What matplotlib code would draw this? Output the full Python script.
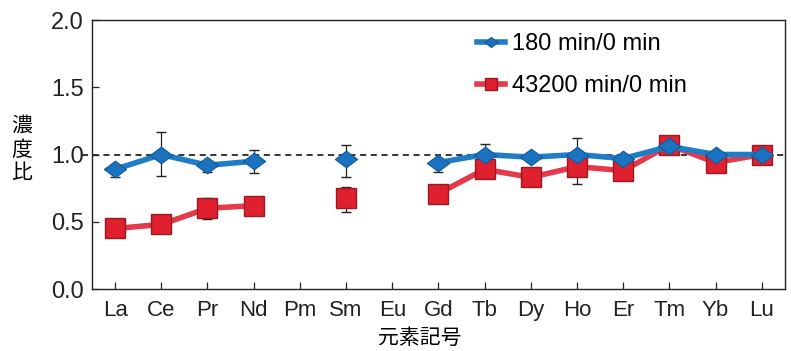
import numpy as np
import matplotlib.pyplot as plt

plt.rcParams['font.family'] = ['Liberation Sans', 'Noto Sans CJK JP', 'DejaVu Sans']

elements = ["La", "Ce", "Pr", "Nd", "Pm", "Sm", "Eu", "Gd", "Tb", "Dy", "Ho", "Er", "Tm", "Yb", "Lu"]
nan = np.nan
# 180 min / 0 min
blue = [0.89, 1.00, 0.92, 0.95, nan, 0.97, nan, 0.94, 1.00, 0.98, 1.00, 0.97, 1.06, 1.00, 1.00]
blue_lo = [0.06, 0.16, 0.05, 0.09, nan, 0.14, nan, 0.07, 0.03, 0.02, 0.22, 0.01, 0.0, 0.02, 0.0]
blue_hi = [0.02, 0.17, 0.03, 0.08, nan, 0.10, nan, 0.02, 0.08, 0.02, 0.12, 0.01, 0.0, 0.02, 0.0]
# 43200 min / 0 min
red = [0.45, 0.48, 0.60, 0.62, nan, 0.68, nan, 0.71, 0.89, 0.83, 0.91, 0.88, 1.07, 0.94, 1.00]
red_lo = [0.0, 0.0, 0.08, 0.03, nan, 0.11, nan, 0.0, 0.0, 0.0, 0.0, 0.0, 0.0, 0.0, 0.0]
red_hi = [0.0, 0.0, 0.08, 0.02, nan, 0.08, nan, 0.0, 0.0, 0.0, 0.0, 0.0, 0.0, 0.0, 0.0]

x = np.arange(len(elements))
diamond = [(-1, 0), (0, 0.75), (1, 0), (0, -0.75), (-1, 0)]

fig = plt.figure(figsize=(7.91, 3.51), dpi=100)
ax = fig.add_axes([0.1163, 0.1766, 0.876, 0.7664])

ax.axhline(1.0, xmin=-0.015, xmax=1, color='black', ls='--', lw=1.1, dashes=(4, 3), clip_on=False, zorder=1)

ax.errorbar(x, blue, yerr=[blue_lo, blue_hi], fmt='none', ecolor='#222222', elinewidth=0.9, capsize=3.5, zorder=2)
ax.errorbar(x, red, yerr=[red_lo, red_hi], fmt='none', ecolor='#222222', elinewidth=0.9, capsize=3.5, zorder=2)

ax.plot(x, red, color='#e43a4a', lw=4, marker='s', ms=14, mfc='#e0202e', mec='#9a1a22', mew=1.0,
        label='43200 min/0 min', zorder=3)
ax.plot(x, blue, color='#1f7cc8', lw=4, marker=diamond, ms=16, mfc='#1a72c0', mec='#145a96', mew=0.8,
        label='180 min/0 min', zorder=4)

ax.set_xlim(-0.5, len(elements) - 0.5)
ax.set_ylim(0, 2.0)
ax.set_xticks(x)
ax.set_xticklabels(elements, fontsize=16)
ax.set_yticks([0, 0.5, 1.0, 1.5, 2.0])
ax.set_yticklabels(["0.0", "0.5", "1.0", "1.5", "2.0"], fontsize=17)
ax.tick_params(direction='in', length=5, width=0.9, colors='#222222')
ax.tick_params(axis='x', pad=8)
ax.tick_params(axis='y', pad=6)
for s in ax.spines.values():
    s.set_linewidth(1.0)
    s.set_color('#222222')

ax.set_xlabel("元素記号", fontsize=15)
ax.xaxis.set_label_coords(0.473, -0.145)
ax.set_ylabel("濃\n度\n比", fontsize=15, rotation=0, va='center', linespacing=1.3)
ax.yaxis.set_label_coords(-0.101, 0.517)

handles, labels = ax.get_legend_handles_labels()
ax.legend(handles[::-1], labels[::-1], loc='upper left', bbox_to_anchor=(0.525, 1.03), frameon=False,
          fontsize=17, handlelength=1.2, handletextpad=0.3, labelspacing=0.85, markerscale=0.6)

fig.savefig("out.png", dpi=100)
